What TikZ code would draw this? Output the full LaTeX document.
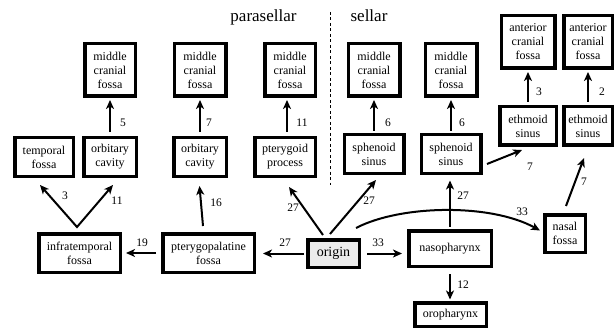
\documentclass[tikz,border=0pt]{standalone}
\usepackage{fontspec}
\setmainfont{Liberation Serif}
\usetikzlibrary{arrows.meta,calc}
\begin{document}
\begin{tikzpicture}[x=1pt,y=-1pt,
  box/.style={draw, line width=3.5pt, fill=white, align=center, inner sep=0pt, font=\fontsize{12}{14}\selectfont},
  sz/.style 2 args={minimum width=#1pt-3.5pt, minimum height=#2pt-3.5pt},
  tip/.style={Stealth[length=9pt,width=8pt,inset=2.5pt]},
  arr/.style={line width=2pt, -{Stealth[length=9pt,width=8pt,inset=2.5pt]}},
  num/.style={font=\fontsize{11.5}{13}\selectfont, inner sep=0pt},
  ttl/.style={font=\fontsize{17}{20}\selectfont, anchor=base, inner sep=0pt}]
\useasboundingbox (0,0) rectangle (614,329);

% titles and separator
\node[ttl] (tpara) at (263.5,21.7) {parasellar};
\node[ttl] (tsell) at (369,21.7) {sellar};
\draw[dash pattern=on 3pt off 2.5pt, line width=0.8pt] (330,12) -- (330,185);

% top boxes
\node[box, sz={54}{56}] (mcf1) at (110,70) {middle\\cranial\\fossa};
\node[box, sz={55}{56}] (mcf2) at (200,70) {middle\\cranial\\fossa};
\node[box, sz={54}{56}] (mcf3) at (290,70) {middle\\cranial\\fossa};
\node[box, sz={55}{56}] (mcf4) at (374,70) {middle\\cranial\\fossa};
\node[box, sz={55}{56}] (mcf5) at (451,70) {middle\\cranial\\fossa};
\node[box, sz={57}{56}] (acf1) at (528,42) {anterior\\cranial\\fossa};
\node[box, sz={52}{56}] (acf2) at (588,42) {anterior\\cranial\\fossa};

% middle row
\node[box, sz={62}{42}] (tf) at (44,157) {temporal\\fossa};
\node[box, sz={56}{42}] (oc1) at (110,157) {orbitary\\cavity};
\node[box, sz={56}{42}] (oc2) at (200,157) {orbitary\\cavity};
\node[box, sz={64}{42}] (pp) at (285,157) {pterygoid\\process};
\node[box, sz={63}{42}] (ss1) at (374,154) {sphenoid\\sinus};
\node[box, sz={63}{42}] (ss2) at (451,154) {sphenoid\\sinus};
\node[box, sz={60}{42}] (es1) at (528,126) {ethmoid\\sinus};
\node[box, sz={52}{42}] (es2) at (588,126) {ethmoid\\sinus};

% bottom row
\node[box, sz={85}{42}] (infra) at (79.5,253) {infratemporal\\fossa};
\node[box, sz={95}{42}] (ptpal) at (208.5,253) {pterygopalatine\\fossa};
\node[box, sz={55}{31}, fill=gray!15, font=\fontsize{14}{16}\selectfont] (origin) at (333.5,253.5) {origin};
\node[box, sz={86}{39}] (naso) at (450,248.5) {nasopharynx};
\node[box, sz={44}{41}] (nf) at (565,233.5) {nasal\\fossa};
\node[box, sz={75}{27}] (oro) at (450.5,314.5) {oropharynx};

% vertical arrows to the top boxes
\draw[arr, shorten <=4pt, shorten >=2pt] (oc1.north) -- (mcf1.south);
\draw[arr, shorten <=4pt, shorten >=2pt] (oc2.north) -- (mcf2.south);
\draw[arr, shorten <=4pt, shorten >=2pt] ($(pp.north)+(2,0)$) -- ($(mcf3.south)+(-3,0)$);
\draw[arr, shorten <=2pt, shorten >=2pt] (ss1.north) -- (mcf4.south);
\draw[arr, shorten <=2pt, shorten >=2pt] (ss2.north) -- (mcf5.south);
\draw[arr, shorten <=3pt, shorten >=2pt] (es1.north) -- (acf1.south);
\draw[arr, shorten <=3pt, shorten >=2pt] (es2.north) -- (acf2.south);

% V from infratemporal fossa
\coordinate (vx) at ($(infra.north)+(-2.5,-5)$);
\draw[line width=2pt, {Stealth[length=9pt,width=8pt,inset=2.5pt]}-{Stealth[length=9pt,width=8pt,inset=2.5pt]}]
  ($(tf.south)+(-4,7)$) -- (vx) -- ($(oc1.south)+(3,7)$);

% other arrows
\draw[arr] ($(ptpal.north)+(-5.5,-6)$) -- ($(oc2.south)+(-0.5,8)$);
\draw[arr] ($(origin.north)+(-10.5,-3)$) -- ($(pp.south)+(4,9)$);
\draw[arr] ($(origin.north)+(-3.5,-4)$) -- ($(ss1.south)+(2,5)$);
\draw[arr, shorten <=2pt, shorten >=7pt] (origin.west) -- (origin.west -| ptpal.east);
\draw[arr, shorten <=5pt, shorten >=4pt] (ptpal.west) -- (ptpal.west -| infra.east);
\draw[arr, shorten <=6pt, shorten >=5pt] (origin.east) -- (origin.east -| naso.west);
\draw[arr, shorten <=2.5pt, shorten >=5.5pt] (naso.north) -- (naso.north |- ss2.south);
\draw[arr, shorten <=6pt, shorten >=1.5pt] (naso.south) -- (naso.south |- oro.north);
\draw[arr] ($(ss2.east)+(4.5,10)$) -- ($(es1.south)+(-6,3)$);
\draw[arr] ($(nf.north)+(1,-7)$) -- ($(es2.south)+(-4,11)$);
\draw[arr] ($(origin.north east)+(-5,-10)$) .. controls (400,205) and (490,203) .. ($(nf.west)+(-3,-3)$);

% numbers
\node[num] (n1) at (123,123) {5};
\node[num] (n2) at (209,123) {7};
\node[num] (n3) at (302,123) {11};
\node[num] (n4) at (388,123) {6};
\node[num] (n5) at (462,123) {6};
\node[num] (n6) at (539,92) {3};
\node[num] (n7) at (602,92) {2};
\node[num] (n8) at (65,196) {3};
\node[num] (n9) at (117,201) {11};
\node[num] (n10) at (216,203) {16};
\node[num] (n11) at (293,208) {27};
\node[num] (n12) at (369,201) {27};
\node[num] (n13) at (463,196) {27};
\node[num] (n14) at (530,167) {7};
\node[num] (n15) at (584,182) {7};
\node[num] (n16) at (522,212) {33};
\node[num] (n17) at (142,243) {19};
\node[num] (n18) at (285,243) {27};
\node[num] (n19) at (378,243) {33};
\node[num] (n20) at (463,285) {12};
\end{tikzpicture}
\end{document}
